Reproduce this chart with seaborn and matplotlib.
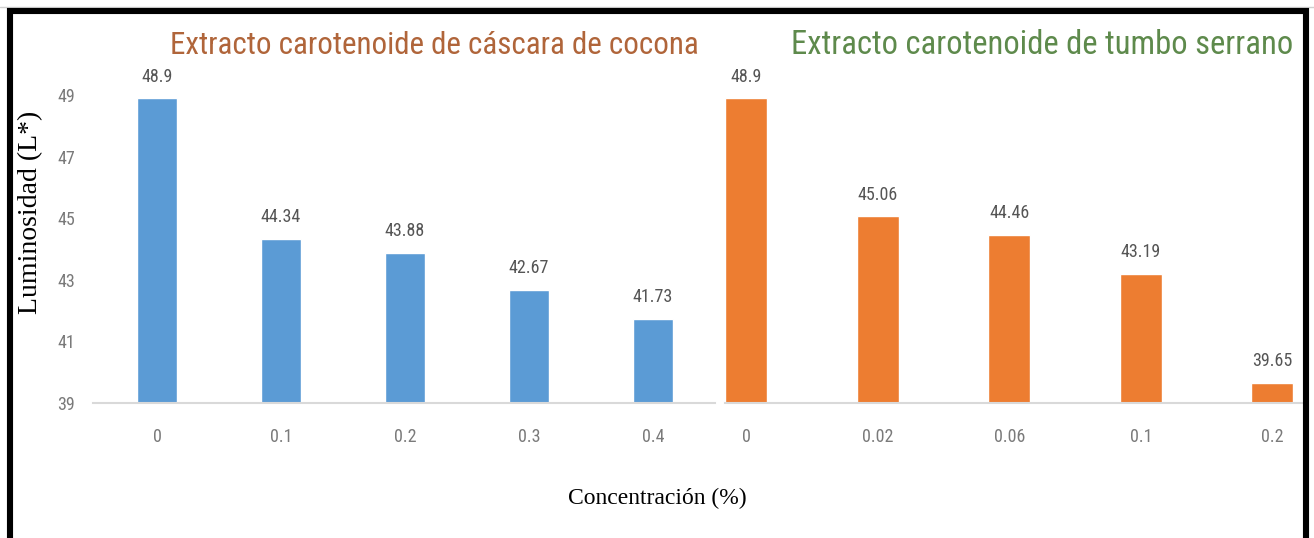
import matplotlib
matplotlib.use("Agg")
import matplotlib.pyplot as plt
from matplotlib import font_manager
from matplotlib.lines import Line2D
import seaborn as sns
import pandas as pd

# Data: luminosity (L*) by extract concentration (%)
cocona_conc = ["0", "0.1", "0.2", "0.3", "0.4"]
cocona_lum = [48.9, 44.34, 43.88, 42.67, 41.73]
tumbo_conc = ["0", "0.02", "0.06", "0.1", "0.2"]
tumbo_lum = [48.9, 45.06, 44.46, 43.19, 39.65]
y_ticks = [39, 41, 43, 45, 47, 49]

title_cocona = "Extracto carotenoide de cáscara de cocona"
title_tumbo = "Extracto carotenoide de tumbo serrano"
y_label = "Luminosidad (L*)"
x_label = "Concentración (%)"

sns.set_theme(style="white")


def pick_font(candidates):
    names = {f.name for f in font_manager.fontManager.ttflist}
    for c in candidates:
        if c in names:
            return c
    return "DejaVu Sans"


narrow = pick_font(["Liberation Sans Narrow", "Roboto Condensed", "Open Sans", "Liberation Sans"])
serif = pick_font(["Liberation Serif", "DejaVu Serif"])
plt.rcParams["font.family"] = [narrow, "DejaVu Sans"]

W, H = 1314, 538
fig = plt.figure(figsize=(W / 100, H / 100), dpi=100)
fig.patch.set_facecolor("white")

px_per_unit = 30.8
base_y = 403
top_val = 50
ax_bottom = (H - base_y) / H
ax_height = (top_val - 39) * px_per_unit / H

ax1 = fig.add_axes([93 / W, ax_bottom, (715 - 93) / W, ax_height])
ax2 = fig.add_axes([725 / W, ax_bottom, (1304 - 725) / W, ax_height])

df1 = pd.DataFrame({"conc": cocona_conc, "lum": cocona_lum})
df2 = pd.DataFrame({"conc": tumbo_conc, "lum": tumbo_lum})

sns.barplot(data=df1, x="conc", y="lum", color="#5B9BD5", saturation=1,
            width=0.32, ax=ax1)
sns.barplot(data=df2, x="conc", y="lum", color="#ED7D31", saturation=1,
            width=0.32, ax=ax2)

value_color = "#555555"
tick_color = "#7A7A7A"

for ax, vals, xl in [(ax1, cocona_lum, (-0.516, 4.5)), (ax2, tumbo_lum, (-0.16, 4.24))]:
    ax.set_ylim(39, top_val)
    ax.set_xlim(*xl)
    ax.set_xlabel("")
    ax.set_ylabel("")
    for side in ["top", "right", "left"]:
        ax.spines[side].set_visible(False)
    ax.spines["bottom"].set_color("#D9D9D9")
    ax.spines["bottom"].set_linewidth(1.5)
    ax.set_facecolor("none")
    ax.grid(False)
    ax.tick_params(axis="x", length=0, pad=18, labelsize=13, labelcolor=tick_color)
    ax.bar_label(ax.containers[0], labels=[f"{v:g}" for v in vals], padding=9,
                 fontsize=13, color=value_color)

ax1.set_yticks(y_ticks)
ax1.set_yticklabels([str(t) for t in y_ticks])
ax1.tick_params(axis="y", length=0, pad=13, labelsize=13, labelcolor=tick_color)
ax2.set_yticks([])

# Panel titles
fig.text(434 / W, 1 - 45 / H, title_cocona, ha="center", va="center",
         fontsize=22.3, color="#B0653A")
fig.text(1042 / W, 1 - 45 / H, title_tumbo, ha="center", va="center",
         fontsize=23.5, color="#5E8A4C")

# Axis titles
fig.text(31 / W, 1 - 212 / H, y_label, rotation=90, ha="center", va="center",
         fontsize=20, family=serif, color="black")
fig.text(657 / W, 1 - 498 / H, x_label, ha="center", va="center",
         fontsize=17, family=serif, color="black")

# Frame around the figure (open at the bottom)
fig.add_artist(Line2D([0, 1], [1 - 7 / H, 1 - 7 / H], transform=fig.transFigure,
                      color="#D0D0D0", lw=1))
fig.add_artist(Line2D([10 / W, 10 / W, 1306 / W, 1306 / W],
                      [0, 1 - 11 / H, 1 - 11 / H, 0], transform=fig.transFigure,
                      color="black", lw=4.4, solid_joinstyle="miter"))

fig.savefig("out.png", dpi=100, facecolor="white")
